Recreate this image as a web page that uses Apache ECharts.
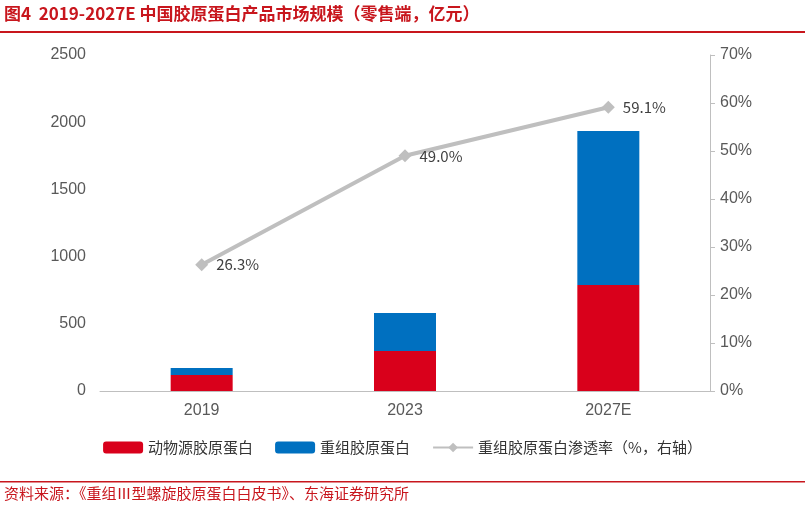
<!DOCTYPE html>
<html><head><meta charset="utf-8">
<script src="https://cdn.jsdelivr.net/npm/echarts@6/dist/echarts.min.js"></script>
<style>body{margin:0;background:#fff}#c{width:805px;height:510px}</style>
</head><body><div id="c"></div>
<script>
const categories = ['2019', '2023', '2027E'];
const animalCollagen = [119, 298, 789];
const recombinantCollagen = [52, 282, 1146];
const penetrationRate = [26.3, 49.0, 59.1];

const chart = echarts.init(document.getElementById('c'));
const F = '"Noto Sans CJK SC", "Noto Sans", sans-serif';
const N = '"Liberation Sans", Arial, sans-serif';
chart.setOption({
  animation: false,
  textStyle: {fontFamily: F},
  graphic: [
    {type: 'text', left: 4, top: 5, style: {text: '图4  2019-2027E 中国胶原蛋白产品市场规模（零售端，亿元）', fill: '#c8161d', font: 'bold 17px ' + F}},
    {type: 'rect', shape: {x: 0, y: 31, width: 805, height: 2}, style: {fill: '#c8161d'}},
    {type: 'rect', shape: {x: 0, y: 481, width: 805, height: 1.5}, style: {fill: '#c8161d'}},
    {type: 'text', left: 4, top: 486, style: {text: '资料来源：《重组Ⅲ型螺旋胶原蛋白白皮书》、东海证券研究所', fill: '#c8161d', font: '15px ' + F}}
  ],
  legend: {
    bottom: 50, left: 'center', itemGap: 22, itemWidth: 40, itemHeight: 12,
    textStyle: {fontSize: 15, color: '#333', fontFamily: F},
    data: ['动物源胶原蛋白', '重组胶原蛋白', '重组胶原蛋白渗透率（%，右轴）']
  },
  grid: {left: 100, right: 95, top: 55, bottom: 119},
  xAxis: {
    type: 'category', data: categories,
    axisLine: {lineStyle: {color: '#bfbfbf'}}, axisTick: {show: false},
    axisLabel: {fontSize: 16, color: '#595959', margin: 12, fontFamily: N}
  },
  yAxis: [
    {type: 'value', min: 0, max: 2500, interval: 500, splitLine: {show: false},
     axisLine: {show: false}, axisLabel: {fontSize: 16, color: '#595959', margin: 14, fontFamily: N, formatter: v => String(v)}},
    {type: 'value', min: 0, max: 70, interval: 10, splitLine: {show: false},
     axisLine: {show: true, lineStyle: {color: '#bfbfbf'}}, axisTick: {show: true, lineStyle: {color: '#bfbfbf'}},
     axisLabel: {fontSize: 16, color: '#595959', formatter: '{value}%', margin: 10, fontFamily: N}}
  ],
  series: [
    {name: '动物源胶原蛋白', type: 'bar', stack: 's', data: animalCollagen, barWidth: 62, itemStyle: {color: '#d9001b'}},
    {name: '重组胶原蛋白', type: 'bar', stack: 's', data: recombinantCollagen, itemStyle: {color: '#0070c0'}},
    {name: '重组胶原蛋白渗透率（%，右轴）', type: 'line', yAxisIndex: 1, data: penetrationRate,
     symbol: 'diamond', symbolSize: 13, lineStyle: {color: '#bfbfbf', width: 4}, itemStyle: {color: '#bfbfbf'},
     label: {show: true, position: 'right', distance: 8, formatter: p => p.value.toFixed(1) + '%', fontSize: 15, color: '#404040', fontFamily: F}}
  ]
});
</script></body></html>
